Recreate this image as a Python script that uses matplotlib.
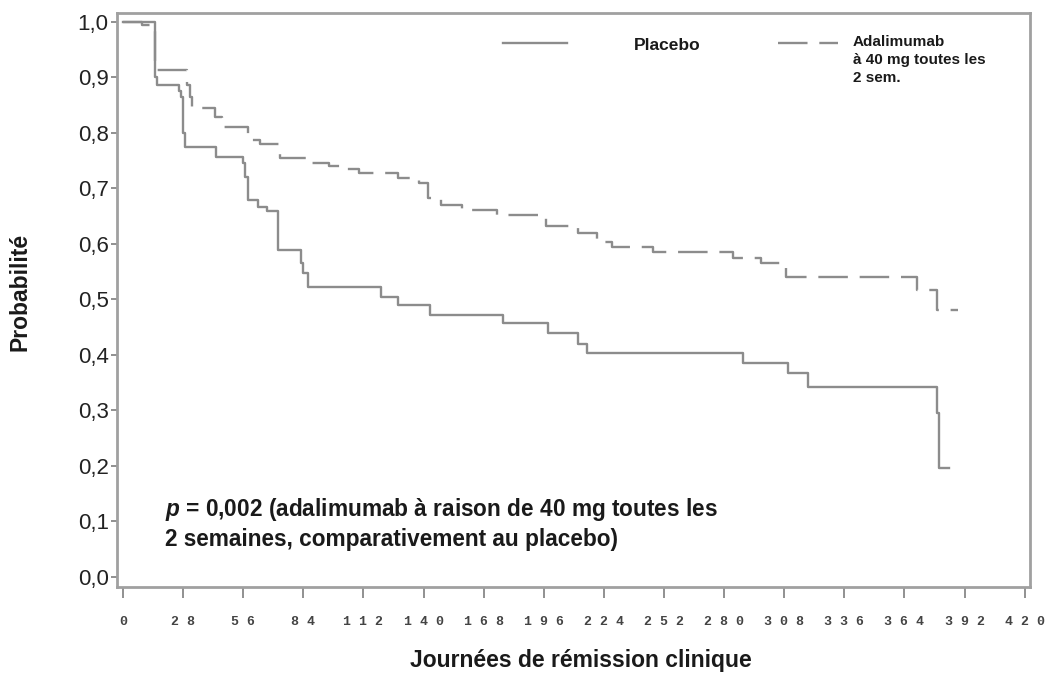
import numpy as np
import matplotlib
matplotlib.use("Agg")
import matplotlib.pyplot as plt

plt.rcParams['font.family'] = ['Liberation Sans', 'DejaVu Sans']
plt.rcParams['mathtext.fontset'] = 'custom'
plt.rcParams['mathtext.it'] = 'Liberation Sans:bold:italic'
plt.rcParams['mathtext.rm'] = 'Liberation Sans:bold'

# Kaplan-Meier steps (days, probability)
days_placebo = [0, 15, 16, 26, 27, 28, 29, 43.5, 56, 57, 58, 63, 67, 72, 83, 84, 86,
                120, 128, 143, 177, 198, 212, 216, 289, 310, 319, 379, 380, 385]
surv_placebo = [1.0, 0.90, 0.886, 0.875, 0.864, 0.80, 0.775, 0.756, 0.745, 0.72, 0.679,
                0.666, 0.66, 0.589, 0.565, 0.547, 0.522, 0.504, 0.490, 0.472, 0.457,
                0.439, 0.42, 0.403, 0.385, 0.367, 0.342, 0.295, 0.196, 0.196]

days_ada = [0, 9, 15, 30, 31, 32, 43, 46, 58, 64, 73, 88, 96, 102, 110, 128, 138, 142,
            148, 158, 174, 197, 212, 221, 228, 247, 284, 297, 309, 370, 379, 389]
surv_ada = [1.0, 0.995, 0.913, 0.886, 0.865, 0.844, 0.828, 0.81, 0.787, 0.78, 0.754,
            0.745, 0.74, 0.735, 0.728, 0.718, 0.709, 0.682, 0.671, 0.661, 0.652, 0.632,
            0.619, 0.603, 0.594, 0.585, 0.574, 0.565, 0.540, 0.517, 0.481, 0.481]

xticks = np.arange(0, 421, 28)
yticks = np.round(np.arange(0, 1.01, 0.1), 1)

label_placebo = "Placebo"
label_ada = "Adalimumab\nà 40 mg toutes les\n2 sem."
note = "$p$ = 0,002 (adalimumab à raison de 40 mg toutes les\n2 semaines, comparativement au placebo)"

line_col = '#8c8c8c'
frame_col = '#a0a0a0'
dash = (12.5, 5)

fig = plt.figure(figsize=(10.5, 6.77), dpi=100)
ax = fig.add_axes([117/1050, 1 - 587/677, 913/1050, 574/677])

ax.step(days_placebo, surv_placebo, where='post', color=line_col, lw=1.7)
ax.step(days_ada, surv_ada, where='post', color=line_col, lw=1.7, dashes=dash)

ax.set_xlim(-2.8, 422.5)
ax.set_ylim(-0.018, 1.016)

ax.set_xticks(xticks)
ax.set_xticklabels([' '.join(str(v)) for v in xticks], family='Liberation Mono',
                   fontweight='bold', fontsize=9.5, color='#444444')
ax.set_yticks(yticks)
ax.set_yticklabels([f"{v:.1f}".replace('.', ',') for v in yticks], fontsize=16,
                   color='#222222')
ax.tick_params(axis='x', direction='out', length=8, width=1.3, color='#888888', pad=13)
ax.tick_params(axis='y', direction='out', length=4, width=1.3, color='#888888', pad=2)

for s in ax.spines.values():
    s.set_color(frame_col)
    s.set_linewidth(2)

# legend drawn by hand to keep the original spacing
ax.plot([0.4228, 0.4929], [0.9477, 0.9477], transform=ax.transAxes, color=line_col, lw=1.7)
ax.plot([0.724, 0.790], [0.9477, 0.9477], transform=ax.transAxes, color=line_col, lw=1.7,
        dashes=dash)
ax.text(0.566, 0.9435, label_placebo, transform=ax.transAxes, fontsize=12.5,
        fontweight='bold', va='center', ha='left', color='#1a1a1a')
ax.text(0.806, 0.962, label_ada, transform=ax.transAxes, fontsize=11,
        fontweight='bold', va='top', ha='left', color='#1a1a1a', linespacing=1.35)

ax.text(0.053, 0.158, note, transform=ax.transAxes, fontsize=16.3, fontweight='bold',
        va='top', ha='left', color='#1a1a1a', linespacing=1.25)

fig.text(20/1050, 1 - 292/677, "Probabilité", rotation=90, fontsize=16.5,
         fontweight='bold', ha='center', va='center', color='#1a1a1a')
fig.text(581/1050, 1 - 661/677, "Journées de rémission clinique", fontsize=16.5,
         fontweight='bold', ha='center', va='center', color='#1a1a1a')

fig.savefig("out.png", dpi=100)
